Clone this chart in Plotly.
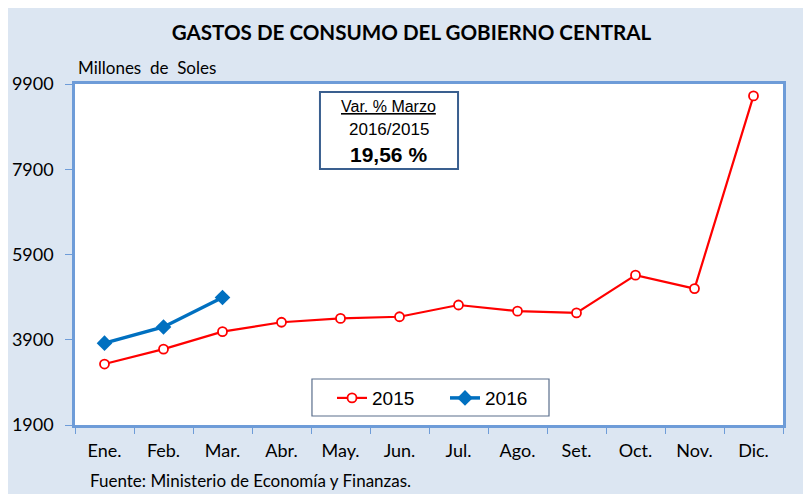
import plotly.graph_objects as go

months = ["Ene.", "Feb.", "Mar.", "Abr.", "May.", "Jun.", "Jul.", "Ago.", "Set.", "Oct.", "Nov.", "Dic."]
y2015 = [3330, 3680, 4090, 4310, 4400, 4440, 4715, 4570, 4530, 5415, 5100, 9620]
months2016 = ["Ene.", "Feb.", "Mar."]
y2016 = [3820, 4200, 4890]
yticks = [1900, 3900, 5900, 7900, 9900]
yticktext = ["1900", "3900", "5900", "7900", "9900"]

AXC = "#6E9CD8"
FONT = "Lato, Open Sans, sans-serif"
ARIAL = "Liberation Sans, Arial, sans-serif"

fig = go.Figure()
fig.add_trace(go.Scatter(x=months, y=y2015, name="2015", mode="lines+markers",
                         line=dict(color="#FF0000", width=2.2),
                         marker=dict(symbol="circle", size=9, color="white",
                                     line=dict(color="#FF0000", width=1.8))))
fig.add_trace(go.Scatter(x=months2016, y=y2016, name="2016", mode="lines+markers",
                         line=dict(color="#0070C0", width=3.5),
                         marker=dict(symbol="diamond", size=12, color="#0070C0")))

fig.update_layout(
    width=803, height=486,
    paper_bgcolor="#DCE6F2", plot_bgcolor="white",
    margin=dict(l=67, r=28, t=76, b=69, autoexpand=False),
    title=dict(text="<b>GASTOS DE CONSUMO DEL GOBIERNO CENTRAL</b>",
               x=0.5025, xanchor="center", y=0.9486, yanchor="middle",
               font=dict(family=FONT, size=20.6, color="black")),
    font=dict(family=FONT, color="black"),
    showlegend=True,
    legend=dict(orientation="h", x=0.363, y=0.079, xanchor="left", yanchor="middle",
                bgcolor="rgba(0,0,0,0)", borderwidth=0,
                font=dict(family=ARIAL, size=19),
                entrywidth=68, itemwidth=30),
    xaxis=dict(type="category", categoryorder="array", categoryarray=months,
               range=[-0.5, 11.5], showgrid=False,
               showline=True, linecolor=AXC, linewidth=2.5, mirror=True,
               ticks="outside", tickson="boundaries", ticklen=6, tickcolor=AXC,
               ticklabelstandoff=8,
               tickfont=dict(size=18), fixedrange=True),
    yaxis=dict(range=[1900, 9900], tickvals=yticks, ticktext=yticktext, showgrid=False,
               showline=True, linecolor=AXC, linewidth=2.5, mirror=True,
               ticks="outside", ticklen=7, tickcolor=AXC,
               ticklabelstandoff=8,
               tickfont=dict(size=18), fixedrange=True),
)

# Legend frame
fig.add_shape(type="rect", xref="paper", yref="paper",
              x0=0.3347, x1=0.6695, y0=0.0264, y1=0.1349,
              fillcolor="white", line=dict(color="#5A6E8C", width=1.2), layer="below")

fig.add_annotation(text="Millones  de  Soles", xref="paper", yref="paper",
                   x=0.002, y=1.047, xanchor="left", yanchor="middle", showarrow=False,
                   font=dict(family=FONT, size=17))
fig.add_annotation(text="Fuente: Ministerio de Economía y Finanzas.", xref="paper", yref="paper",
                   x=0.018, y=-0.164, xanchor="left", yanchor="middle", showarrow=False,
                   font=dict(family=FONT, size=17))

# Boxed note
fig.add_shape(type="rect", xref="paper", yref="paper",
              x0=0.346, x1=0.541, y0=0.7507, y1=0.9765,
              fillcolor="white", line=dict(color="#3A5F8F", width=2), layer="above")
fig.add_annotation(text="<u>Var. % Marzo</u>", xref="paper", yref="paper",
                   x=0.4435, y=0.9326, xanchor="center", yanchor="middle", showarrow=False,
                   font=dict(family=ARIAL, size=16))
fig.add_annotation(text="2016/2015", xref="paper", yref="paper",
                   x=0.4435, y=0.868, xanchor="center", yanchor="middle", showarrow=False,
                   font=dict(family=ARIAL, size=17))
fig.add_annotation(text="<b>19,56 %</b>", xref="paper", yref="paper",
                   x=0.4435, y=0.7918, xanchor="center", yanchor="middle", showarrow=False,
                   font=dict(family=ARIAL, size=21))

fig.write_html("out.html")
